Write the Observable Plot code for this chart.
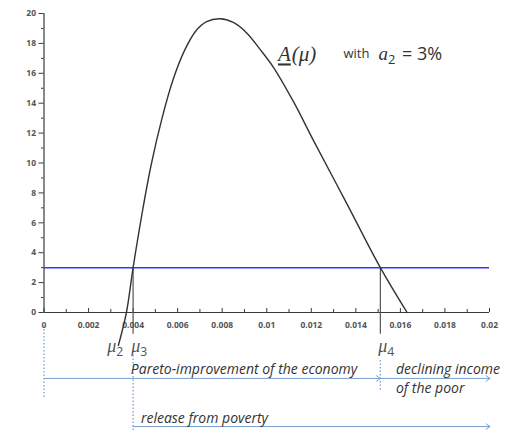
<!DOCTYPE html>
<html><head><meta charset="utf-8">
<script src="https://cdn.jsdelivr.net/npm/d3@7"></script>
<script src="https://cdn.jsdelivr.net/npm/@observablehq/plot@0.6"></script>
<style>body{margin:0;background:#fff;} #chart svg{display:block;}</style>
</head><body><div id="chart"></div>
<script>
// A(mu) curve
const curveX = [0.00334, 0.0037, 0.0040, 0.0044, 0.0048, 0.0053, 0.0058, 0.0063, 0.0068, 0.0073, 0.0079, 0.0085, 0.0091, 0.0097, 0.0103, 0.0112, 0.0121, 0.0136, 0.0151, 0.0163];
const curveY = [-2.2, 0, 3, 6.6, 9.8, 13.0, 15.6, 17.5, 18.8, 19.45, 19.65, 19.4, 18.7, 17.6, 16.4, 14.1, 11.5, 7.27, 3, 0];
const threshold = 3;            // a2 = 3%
const mu2 = 0.00334, mu3 = 0.0040, mu4 = 0.0151;
const xMax = 0.02;
const xMajorTicks = [0, 0.002, 0.004, 0.006, 0.008, 0.01, 0.012, 0.014, 0.016, 0.018, 0.02];
const xMinorTicks = [0.001, 0.003, 0.005, 0.007, 0.009, 0.011, 0.013, 0.015, 0.017, 0.019];
const yMajorTicks = [0, 2, 4, 6, 8, 10, 12, 14, 16, 18, 20];
const yMinorTicks = [1, 3, 5, 7, 9, 11, 13, 15, 17, 19];
const muLabels = ["μ2", "μ3", "μ4"];
const muLabelX = [0.0032, 0.00428, 0.01536];
const titleParts = ["A(μ)", "with", "a2", "= 3%"];
const annotTexts = ["Pareto-improvement of the economy", "declining income", "of the poor", "release from poverty"];
const annotX = [0.0039, 0.0158, 0.0158, 0.00435];
const annotY = [-3.8, -3.8, -5.08, -7.09];
const arrowsX1 = [0, mu4, mu3];
const arrowsX2 = [mu4, 0.02002, 0.02002];
const arrowsY = [-4.41, -4.41, -7.63];
const dotX = [0, mu3, mu4];
const dotY1 = [-0.67, -2.87, -3.21];
const dotY2 = [-5.75, -7.95, -5.22];

const curve = curveX.map((x, i) => ({x, y: curveY[i]}));
const annots = annotTexts.map((t, i) => ({t, x: annotX[i], y: annotY[i]}));
const arrows = arrowsX1.map((x1, i) => ({x1, x2: arrowsX2[i], y: arrowsY[i]}));
const dots = dotX.map((x, i) => ({x, y1: dotY1[i], y2: dotY2[i]}));
const mus = muLabels.map((t, i) => ({t, x: muLabelX[i]}));

const tickFmt = d => d === 0 ? "0" : String(+d.toFixed(3));
const axisCol = "#3a3a3a";
const annCol = "#7a9fd2";

const plot = Plot.plot({
  width: 509,
  height: 430,
  marginLeft: 43.5,
  marginRight: 20,
  marginTop: 13,
  marginBottom: 118,
  style: {background: "#fff", overflow: "visible"},
  x: {domain: [0, xMax]},
  y: {domain: [0, 20]},
  marks: [
    Plot.ruleX([0], {y1: 0, y2: 20, stroke: axisCol, strokeWidth: 1.2}),
    Plot.ruleY([0], {x1: 0, x2: xMax, stroke: axisCol, strokeWidth: 1.2}),
    Plot.axisY({ticks: yMajorTicks, tickSize: 5, tickPadding: 3, fontSize: 8.5, color: axisCol, label: null, fontWeight: "bold", fill: "#555"}),
    Plot.axisY({ticks: yMinorTicks, tickSize: 2.5, text: null, color: axisCol, label: null}),
    Plot.axisX({ticks: xMajorTicks, tickSize: 0, tickPadding: 9, tickFormat: tickFmt, fontSize: 8.5, label: null, fontWeight: "bold", fill: "#555"}),
    Plot.ruleX(xMajorTicks, {y1: 0, y2: 0, insetTop: -4, stroke: axisCol}),
    Plot.ruleX(xMinorTicks, {y1: 0, y2: 0, insetTop: -3, stroke: axisCol}),
    Plot.ruleY([threshold], {x1: 0, x2: xMax, stroke: "#3434ff", strokeWidth: 1.5}),
    Plot.ruleX([mu3, mu4], {y1: threshold, y2: -1.45, stroke: "#555", strokeWidth: 1.2}),
    Plot.line(curve, {x: "x", y: "y", curve: "catmull-rom", stroke: "#333", strokeWidth: 1.4}),
    Plot.text(mus, {x: "x", y: 0, text: "t", dy: 34, fontSize: 18, fontStyle: "italic", fontFamily: "Liberation Serif", fill: "#555"}),
    Plot.ruleX(dots, {x: "x", y1: "y1", y2: "y2", stroke: annCol, strokeWidth: 1.3, strokeDasharray: "1.5,2"}),
    Plot.arrow(arrows, {x1: "x1", x2: "x2", y1: "y", y2: "y", stroke: annCol, strokeWidth: 1, headLength: 7, headAngle: 70}),
    Plot.text(annots, {x: "x", y: "y", text: "t", textAnchor: "start", fontSize: 14, fontStyle: "italic", fontFamily: "Open Sans", fill: "#333"}),
    Plot.text([titleParts[0]], {frameAnchor: "top-left", dx: 234, dy: 33, textAnchor: "start", fontSize: 21, fontStyle: "italic", fontFamily: "Liberation Serif", fill: "#333"}),
    Plot.text([titleParts[1]], {frameAnchor: "top-left", dx: 299.5, dy: 35, textAnchor: "start", fontSize: 13, fontFamily: "Open Sans", fill: "#333"}),
    Plot.text([titleParts[2]], {frameAnchor: "top-left", dx: 334.5, dy: 33, textAnchor: "start", fontSize: 19, fontStyle: "italic", fontFamily: "Liberation Serif", fill: "#333"}),
    Plot.text([titleParts[3]], {frameAnchor: "top-left", dx: 358, dy: 34, textAnchor: "start", fontSize: 18, fontFamily: "Open Sans", fill: "#333"})
  ]
});
document.getElementById("chart").appendChild(plot);

// rich text: underline, subscripts
d3.select(plot).selectAll("text").each(function() {
  const s = this.textContent;
  const el = d3.select(this);
  if (s === titleParts[0]) {
    el.text(null);
    el.append("tspan").attr("text-decoration", "underline").text("A");
    el.append("tspan").attr("dx", 1).text("(μ)");
  } else if (s === titleParts[2] || muLabels.includes(s)) {
    el.text(null);
    el.append("tspan").text(s[0]);
    el.append("tspan").attr("font-size", "0.68em").attr("font-style", "normal")
      .attr("font-family", "Open Sans").attr("dy", "0.3em").text(s.slice(1));
  }
});
</script>
</body></html>
